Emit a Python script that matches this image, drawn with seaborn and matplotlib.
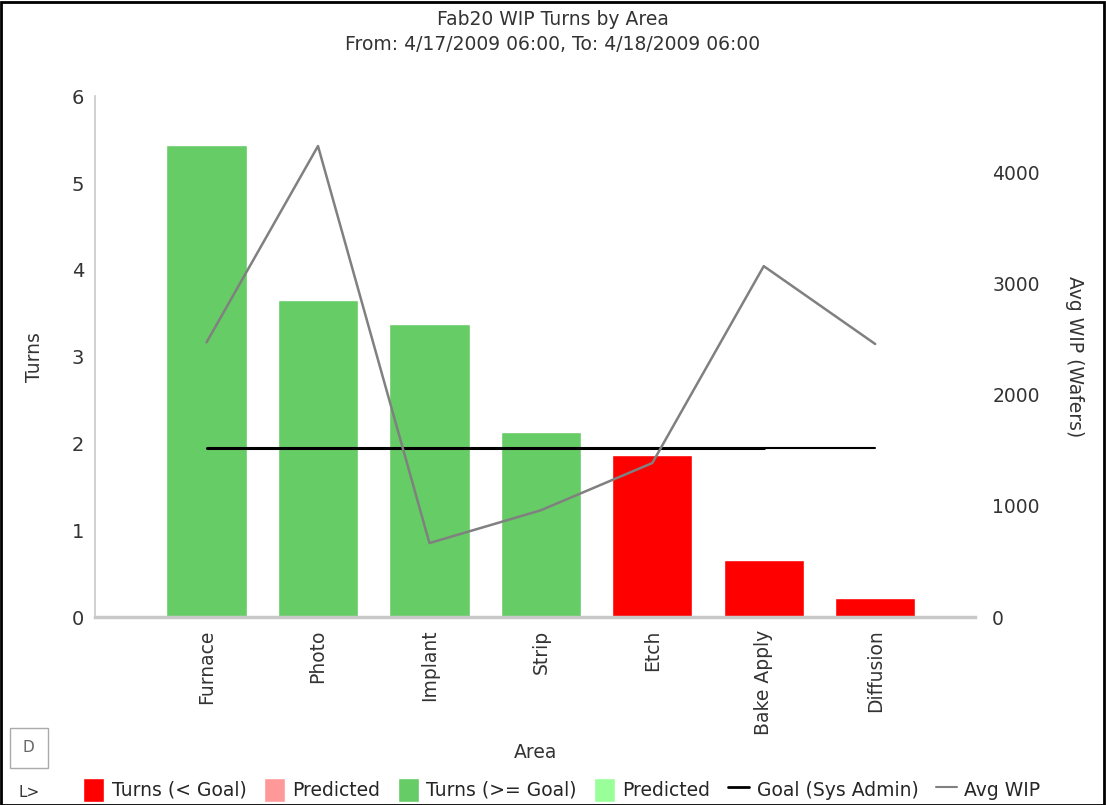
# Fab20 WIP turns by area - bars for turns, line for average WIP on a second axis

import numpy as np
import pandas as pd
import matplotlib
matplotlib.use("Agg")
import matplotlib.pyplot as plt
import seaborn as sns
from matplotlib.patches import Patch, Rectangle
from matplotlib.lines import Line2D


# ---- data -------------------------------------------------------------------

areas = ["Furnace", "Photo", "Implant", "Strip", "Etch", "Bake Apply", "Diffusion"]
turns = [5.44, 3.65, 3.37, 2.13, 1.87, 0.66, 0.22]
avg_wip = [2470, 4235, 665, 960, 1385, 3155, 2455]
goal = 1.95

green = "#66cc66"
red = "#ff0000"
bar_colors = [green if t >= goal else red for t in turns]

data = pd.DataFrame({"area": areas, "turns": turns, "avg_wip": avg_wip})


# ---- figure -------------------------------------------------------------------

sns.set_style("white")
plt.rcParams["font.family"] = ["DejaVu Sans"]
plt.rcParams["font.size"] = 13.5
txt = "#333333"

fig = plt.figure(figsize=(11.06, 8.05), dpi=100)
ax = fig.add_axes([0.086, 0.2335, 0.796, 0.647])

sns.barplot(data=data, x="area", y="turns", hue="area", palette=bar_colors,
            width=0.72, saturation=1, legend=False, ax=ax)

# goal line: thick over the first areas, thinner on the last step
ax.plot([0, 5], [goal, goal], color="black", linewidth=2.2)
ax.plot([5, 6], [goal, goal], color="black", linewidth=1.5)

ax.set_xlim(-1, 6.9)
ax.set_ylim(0, 6)
ax.set_yticks(range(0, 7))
ax.set_ylabel("Turns", color=txt, labelpad=20)
ax.set_xlabel("Area", color=txt, labelpad=6)
ax.tick_params(axis="x", rotation=90, length=0, pad=9, colors=txt)
ax.tick_params(axis="y", length=0, pad=8, colors=txt)
for lab in ax.get_yticklabels():
    lab.set_fontsize(14)

for side in ["top", "right"]:
    ax.spines[side].set_visible(False)
ax.spines["left"].set_color("#c8c8c8")
ax.spines["left"].set_linewidth(1.2)
ax.spines["bottom"].set_color("#c8c8c8")
ax.spines["bottom"].set_linewidth(2.5)

# second axis for average WIP
ax2 = ax.twinx()
sns.lineplot(x=np.arange(len(areas)), y=data["avg_wip"], color="#808080",
             linewidth=1.8, ax=ax2)
ax2.set_ylim(0, 4683)
ax2.set_yticks([0, 1000, 2000, 3000, 4000])
ax2.set_ylabel("Avg WIP (Wafers)", rotation=270, color=txt, labelpad=32)
ax2.tick_params(axis="y", length=0, pad=12, colors=txt)
for side in ["top", "right", "left", "bottom"]:
    ax2.spines[side].set_visible(False)

fig.suptitle("Fab20 WIP Turns by Area\nFrom: 4/17/2009 06:00, To: 4/18/2009 06:00",
             y=0.987, fontsize=13.5, color=txt, linespacing=1.35)

# legend along the bottom
handles = [
    Patch(facecolor=red, label="Turns (< Goal)"),
    Patch(facecolor="#ff9999", label="Predicted"),
    Patch(facecolor=green, label="Turns (>= Goal)"),
    Patch(facecolor="#99ff99", label="Predicted"),
    Line2D([], [], color="black", linewidth=2, label="Goal (Sys Admin)"),
    Line2D([], [], color="#808080", linewidth=1.5, label="Avg WIP"),
]
fig.legend(handles=handles, loc="lower center", bbox_to_anchor=(0.508, -0.017),
           ncol=6, frameon=False, handlelength=1.1, handleheight=1.6,
           handletextpad=0.4, columnspacing=0.95, fontsize=13.5)

# small toolbar boxes in the lower left corner
fig.patches.append(Rectangle((0.009, 0.046), 0.034, 0.05, transform=fig.transFigure,
                             fill=False, edgecolor="#aaaaaa", linewidth=1))
fig.text(0.026, 0.071, "D", ha="center", va="center", fontsize=11, color="#666666")
fig.text(0.026, 0.016, "L>", ha="center", va="center", fontsize=11, color="#333333")

# outer frame like the screenshot
fig.patches.append(Rectangle((0.001, 0.0), 0.997, 0.998, transform=fig.transFigure,
                             fill=False, edgecolor="black", linewidth=2))

plt.savefig("out.png", dpi=100)
plt.close()
